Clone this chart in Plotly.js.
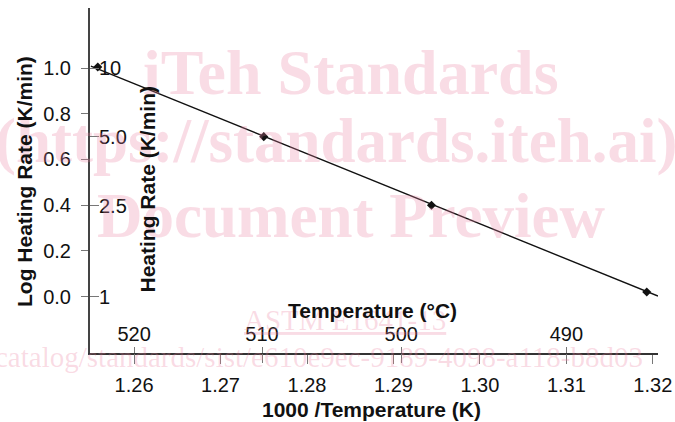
<!DOCTYPE html>
<html>
<head>
<meta charset="utf-8">
<script src="https://cdn.plot.ly/plotly-3.0.1.min.js"></script>
<style>html,body{margin:0;padding:0;background:#fff;}#chart{width:675px;height:422px;}</style>
</head>
<body>
<div id="chart"></div>
<script>
// Data
const invTemp = [1.2558, 1.2750, 1.2944, 1.3193];      // 1000/T (K^-1)
const logRate = [1.005, 0.70, 0.40, 0.02];             // log heating rate
const fitX = [1.2550, 1.3206];
const fitY = [1.009, 0.002];
const xTicks = [1.26, 1.27, 1.28, 1.29, 1.30, 1.31, 1.32];
const logTicks = [0.0, 0.2, 0.4, 0.6, 0.8, 1.0];
const rateTicks = [1, 2.5, 5, 10];
const rateLabels = ['1', '2.5', '5.0', '10'];
const celsiusPos = [1.2600, 1.2748, 1.2909, 1.3100];
const celsiusLabels = ['520', '510', '500', '490'];

const xRange = [1.2549, 1.3206];
const yRange = [-0.247, 1.263];
const sans = 'Liberation Sans, Arial, sans-serif';
const serif = 'Liberation Serif, Times New Roman, serif';
const W = 675, H = 422, L = 90, R = 17, T = 8, B = 69;
const pw = W - L - R, ph = H - T - B;
const px = p => (p - L) / pw;
const py = p => (H - B - p) / ph;
const tickFont = {size: 20, family: sans, color: '#111'};

const traces = [
  {x: fitX, y: fitY, type: 'scatter', mode: 'lines', line: {color: '#111', width: 1.4}, hoverinfo: 'skip', showlegend: false},
  {x: invTemp, y: logRate, type: 'scatter', mode: 'markers', marker: {symbol: 'diamond', size: 7, color: '#111'}, showlegend: false},
  // invisible carriers so that the secondary axes are drawn
  {x: invTemp, y: logRate, xaxis: 'x2', yaxis: 'y2', type: 'scatter', mode: 'markers', marker: {opacity: 0}, hoverinfo: 'skip', showlegend: false},
  {x: invTemp, y: logRate, xaxis: 'x3', yaxis: 'y', type: 'scatter', mode: 'markers', marker: {opacity: 0}, hoverinfo: 'skip', showlegend: false}
];

const wm = 'rgba(235,130,160,0.28)';
const layout = {
  width: W, height: H,
  margin: {l: L, r: R, t: T, b: B, pad: 0},
  paper_bgcolor: '#fff', plot_bgcolor: 'rgba(0,0,0,0)',
  font: {family: sans, color: '#111', size: 20},
  showlegend: false,
  xaxis: {
    range: xRange, showgrid: false, zeroline: false,
    showline: true, linecolor: '#333', linewidth: 1.5,
    ticks: 'outside', ticklen: 9, tickcolor: '#777', tickwidth: 1,
    tickmode: 'array', tickvals: xTicks, ticktext: xTicks.map(v => v.toFixed(2)),
    tickfont: tickFont, ticklabelstandoff: 4
  },
  xaxis2: {
    overlaying: 'x', anchor: 'y2', side: 'bottom', range: xRange,
    showgrid: false, zeroline: false, showline: false,
    ticks: 'inside', ticklen: 6, tickcolor: '#777', tickwidth: 1,
    ticklabelposition: 'inside', ticklabelstandoff: 3,
    tickmode: 'array', tickvals: celsiusPos, ticktext: celsiusLabels,
    tickfont: tickFont
  },
  xaxis3: {
    overlaying: 'x', anchor: 'y', side: 'bottom', range: xRange,
    showgrid: false, zeroline: false, showline: false,
    ticks: 'outside', ticklen: 9, tickcolor: '#777', tickwidth: 1,
    showticklabels: false, tickmode: 'array', tickvals: celsiusPos
  },
  yaxis: {
    range: yRange, showgrid: false, zeroline: false,
    showline: true, linecolor: '#444', linewidth: 2,
    ticks: 'outside', ticklen: 7, tickcolor: '#777', tickwidth: 1,
    tickmode: 'array', tickvals: logTicks, ticktext: logTicks.map(v => v.toFixed(1)),
    tickfont: tickFont, ticklabelstandoff: 6
  },
  yaxis2: {
    overlaying: 'y', anchor: 'x2', side: 'left', range: yRange,
    showgrid: false, zeroline: false, showline: false,
    ticks: 'inside', ticklen: 9, tickcolor: '#777', tickwidth: 1,
    ticklabelposition: 'inside', ticklabelstandoff: 1,
    tickmode: 'array', tickvals: rateTicks.map(v => Math.log10(v)), ticktext: rateLabels,
    tickfont: tickFont
  },
  annotations: [
    {text: 'iTeh Standards', x: px(351), y: py(72), xref: 'paper', yref: 'paper', xanchor: 'center', yanchor: 'middle', showarrow: false, font: {family: serif, size: 64, color: wm, weight: 'bold'}},
    {text: '(https://standards.iteh.ai)', x: px(336), y: py(141), xref: 'paper', yref: 'paper', xanchor: 'center', yanchor: 'middle', showarrow: false, font: {family: serif, size: 63, color: wm, weight: 'bold'}},
    {text: 'Document Preview', x: px(351), y: py(216), xref: 'paper', yref: 'paper', xanchor: 'center', yanchor: 'middle', showarrow: false, font: {family: serif, size: 63, color: wm, weight: 'bold'}},
    {text: '<u>ASTM E1641-13</u>', x: px(345), y: py(320), xref: 'paper', yref: 'paper', xanchor: 'center', yanchor: 'middle', showarrow: false, font: {family: serif, size: 29, color: wm}},
    {text: 'catalog/standards/sist/e610e9ec-9189-4098-a118-b8d03', x: px(-7), y: py(357), xref: 'paper', yref: 'paper', xanchor: 'left', yanchor: 'middle', showarrow: false, font: {family: serif, size: 29, color: wm}},
    {text: 'Log Heating Rate (K/min)', textangle: -90, x: px(24), y: py(182), xref: 'paper', yref: 'paper', xanchor: 'center', yanchor: 'middle', showarrow: false, font: {family: sans, size: 21, color: '#111', weight: 'bold'}},
    {text: 'Heating Rate (K/min)', textangle: -90, x: px(147.5), y: py(189), xref: 'paper', yref: 'paper', xanchor: 'center', yanchor: 'middle', showarrow: false, font: {family: sans, size: 21, color: '#111', weight: 'bold'}},
    {text: 'Temperature (°C)', x: px(372), y: py(310), xref: 'paper', yref: 'paper', xanchor: 'center', yanchor: 'middle', showarrow: false, font: {family: sans, size: 21, color: '#111', weight: 'bold'}},
    {text: '1000 /Temperature (K)', x: px(371), y: py(409), xref: 'paper', yref: 'paper', xanchor: 'center', yanchor: 'middle', showarrow: false, font: {family: sans, size: 21, color: '#111', weight: 'bold'}}
  ]
};

Plotly.newPlot('chart', traces, layout, {staticPlot: true, displayModeBar: false});
</script>
</body>
</html>
